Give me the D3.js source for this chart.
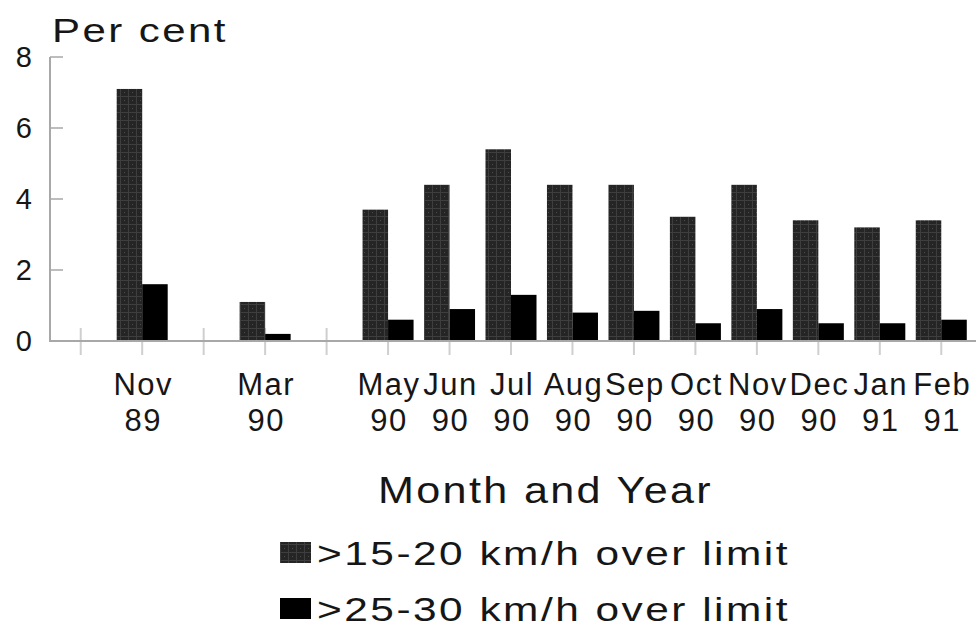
<!DOCTYPE html>
<html>
<head>
<meta charset="utf-8">
<script src="https://cdn.jsdelivr.net/npm/d3@7"></script>
<style>
  html, body { margin: 0; padding: 0; background: #fff; }
  svg { display: block; font-family: "Liberation Sans", Arial, sans-serif; }
</style>
</head>
<body>
<svg id="chart" width="980" height="633"></svg>
<script>
// Survey months (blank slots keep the gaps between survey periods)
const monthLabels = ["", "Nov", "", "Mar", "", "May", "Jun", "Jul", "Aug", "Sep", "Oct", "Nov", "Dec", "Jan", "Feb"];
const yearLabels  = ["", "89",  "", "90",  "", "90",  "90",  "90",  "90",  "90",  "90",  "90",  "90",  "91",  "91"];
// Percentage of vehicles over the limit (null = no survey)
const over15to20 = [null, 7.1, null, 1.1, null, 3.7, 4.4, 5.4, 4.4, 4.4, 3.5, 4.4, 3.4, 3.2, 3.4];
const over25to30 = [null, 1.6, null, 0.2, null, 0.6, 0.9, 1.3, 0.8, 0.85, 0.5, 0.9, 0.5, 0.5, 0.6];
const seriesNames = [">15-20 km/h over limit", ">25-30 km/h over limit"];
const yTicks = [0, 2, 4, 6, 8];

const svg = d3.select("#chart");
const plotLeft = 50, plotRight = 972, plotTop = 57, plotBottom = 341;
const textColor = "#161616";
const axisColor = "#a8a8a8";

// Textured fill for the first series
const defs = svg.append("defs");
const pat = defs.append("pattern")
  .attr("id", "dots").attr("patternUnits", "userSpaceOnUse")
  .attr("width", 8).attr("height", 8);
pat.append("rect").attr("width", 8).attr("height", 8).attr("fill", "#252525");
pat.append("rect").attr("x", 0).attr("y", 0).attr("width", 8).attr("height", 1).attr("fill", "#3e3e3e");
pat.append("rect").attr("x", 0).attr("y", 0).attr("width", 1).attr("height", 8).attr("fill", "#3e3e3e");
pat.append("rect").attr("x", 4).attr("y", 4).attr("width", 1).attr("height", 1).attr("fill", "#4a4a4a");
const fills = ["url(#dots)", "#000"];

const idx = d3.range(monthLabels.length);
const x0 = d3.scaleBand().domain(idx).range([plotLeft, plotRight]).padding(0);
const x1 = d3.scaleBand().domain([0, 1]).range([0, x0.bandwidth()]).paddingInner(0).paddingOuter(0.205);
const y = d3.scaleLinear().domain([0, 8]).range([plotBottom, plotTop]);

// Category tick marks crossing the base line
svg.append("g").selectAll("line").data(idx).join("line")
  .attr("x1", i => x0(i) + x0.bandwidth() / 2)
  .attr("x2", i => x0(i) + x0.bandwidth() / 2)
  .attr("y1", plotBottom - 13).attr("y2", plotBottom + 14)
  .attr("stroke", "#cfcfcf").attr("stroke-width", 2);

// Value ticks pointing inward
svg.append("g").selectAll("line").data(yTicks).join("line")
  .attr("x1", plotLeft).attr("x2", plotLeft + 13)
  .attr("y1", d => y(d)).attr("y2", d => y(d))
  .attr("stroke", "#bdbdbd").attr("stroke-width", 2);

// Bars
const series = [over15to20, over25to30];
series.forEach((vals, s) => {
  svg.append("g").selectAll("rect")
    .data(idx.filter(i => vals[i] != null))
    .join("rect")
    .attr("x", i => x0(i) + x1(s))
    .attr("width", x1.bandwidth())
    .attr("y", i => y(vals[i]))
    .attr("height", i => y(0) - y(vals[i]))
    .attr("fill", fills[s]);
});

// Axis lines
svg.append("line").attr("x1", plotLeft).attr("x2", plotLeft).attr("y1", plotTop).attr("y2", plotBottom)
  .attr("stroke", axisColor).attr("stroke-width", 2);
svg.append("line").attr("x1", plotLeft - 1).attr("x2", 976).attr("y1", plotBottom).attr("y2", plotBottom)
  .attr("stroke", axisColor).attr("stroke-width", 2);

// Value labels
svg.append("g").selectAll("text").data(yTicks).join("text")
  .attr("x", 32).attr("y", d => y(d))
  .attr("dy", "0.36em")
  .attr("text-anchor", "end")
  .attr("font-size", 29).attr("fill", textColor)
  .text(d => d);

// Category labels (month over year)
const catG = svg.append("g").attr("font-size", 31).attr("fill", textColor)
  .attr("text-anchor", "middle").attr("letter-spacing", 1.5);
catG.selectAll("text.m").data(idx.filter(i => monthLabels[i])).join("text")
  .attr("class", "m")
  .attr("x", i => x0(i) + x0.bandwidth() / 2 + 1)
  .attr("y", 395)
  .text(i => monthLabels[i]);
catG.selectAll("text.yr").data(idx.filter(i => yearLabels[i])).join("text")
  .attr("class", "yr")
  .attr("x", i => x0(i) + x0.bandwidth() / 2 + 1)
  .attr("y", 431)
  .text(i => yearLabels[i]);

// Axis titles (wide lettering)
svg.append("text").attr("x", 52).attr("y", 42)
  .attr("font-size", 34).attr("fill", textColor)
  .attr("letter-spacing", 2)
  .attr("textLength", 176).attr("lengthAdjust", "spacingAndGlyphs")
  .text("Per cent");
svg.append("text").attr("x", 378).attr("y", 503)
  .attr("font-size", 37).attr("fill", textColor)
  .attr("letter-spacing", 2)
  .attr("textLength", 335).attr("lengthAdjust", "spacingAndGlyphs")
  .text("Month and Year");

// Legend
const legend = svg.append("g");
seriesNames.forEach((name, s) => {
  const base = 565 + s * 56;
  legend.append("rect").attr("x", 280).attr("y", base - 23)
    .attr("width", 31).attr("height", 21).attr("fill", fills[s]);
  legend.append("text").attr("x", 317).attr("y", base)
    .attr("font-size", 34).attr("fill", textColor)
    .attr("letter-spacing", 2)
    .attr("textLength", 473).attr("lengthAdjust", "spacingAndGlyphs")
    .text(name);
});
</script>
</body>
</html>
